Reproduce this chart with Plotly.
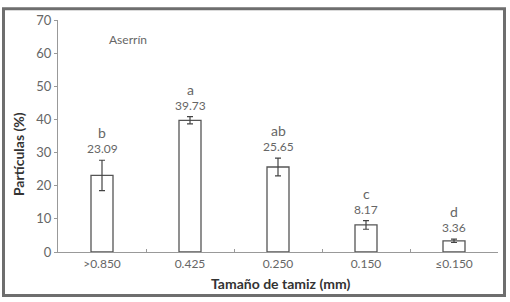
import plotly.graph_objects as go

categories = [">0.850", "0.425", "0.250", "0.150", "≤0.150"]
values = [23.09, 39.73, 25.65, 8.17, 3.36]
errors = [4.6, 1.1, 2.7, 1.3, 0.5]
letters = ["b", "a", "ab", "c", "d"]
value_labels = ["23.09", "39.73", "25.65", "8.17", "3.36"]

FONT = "Lato"
GRAY = "#666666"

fig = go.Figure()
fig.add_trace(go.Bar(
    x=list(range(len(categories))), y=values, width=0.25,
    marker=dict(color="white", line=dict(color="#555555", width=1.3)),
    error_y=dict(type="data", array=errors, visible=True, color="#444444",
                 thickness=1.2, width=3),
    showlegend=False,
))

for i, (v, e, l, t) in enumerate(zip(values, errors, letters, value_labels)):
    fig.add_annotation(x=i, y=v + e, text=t, showarrow=False, yanchor="bottom",
                       xanchor="center", yshift=2,
                       font=dict(family=FONT, size=12, color=GRAY))
    fig.add_annotation(x=i, y=v + e, text=l, showarrow=False, yanchor="bottom",
                       xanchor="center", yshift=17,
                       font=dict(family=FONT, size=14, color=GRAY))

W, H = 510, 302
ML, MR, MT, MB = 58, 12, 15, 50
pw, ph = W - ML - MR, H - MT - MB
def px(xp):
    return (xp - ML) / pw
def py(yp):
    return (H - MB - yp) / ph

fig.update_layout(
    width=W, height=H,
    margin=dict(l=ML, r=MR, t=MT, b=MB),
    paper_bgcolor="white", plot_bgcolor="white",
    font=dict(family=FONT, size=12, color=GRAY),
)

fig.add_annotation(x=px(128), y=py(35), xref="paper", yref="paper", text="Aserrín",
                   xanchor="center", yanchor="middle", showarrow=False,
                   font=dict(family=FONT, size=12, color=GRAY))

fig.add_shape(type="rect", xref="paper", yref="paper",
              x0=px(3.5), x1=px(504.5), y0=py(296.5), y1=py(3.5),
              line=dict(color="#6e6e6e", width=3))

fig.add_annotation(x=px(18), y=py(152), xref="paper", yref="paper",
                   text="<b>Partículas (%)</b>", textangle=-90, showarrow=False,
                   xanchor="center", yanchor="middle",
                   font=dict(family=FONT, size=14, color="#333333"))
fig.add_annotation(x=px(280), y=py(284), xref="paper", yref="paper",
                   text="<b>Tamaño de tamiz (mm)</b>", showarrow=False,
                   xanchor="center", yanchor="middle",
                   font=dict(family=FONT, size=14, color="#333333"))

fig.update_yaxes(range=[0, 70], dtick=10, showline=True, linecolor="#999999",
                 linewidth=1.3, ticks="outside", ticklen=3, tickcolor="#999999",
                 showgrid=False, zeroline=False,
                 tickfont=dict(family=FONT, size=13, color=GRAY))
fig.update_xaxes(range=[-0.5, 4.5], tickmode="array",
                 tickvals=list(range(len(categories))), ticktext=categories,
                 showline=True, linecolor="#999999", linewidth=1.3,
                 showgrid=False, zeroline=False, ticks="",
                 tickfont=dict(family=FONT, size=12, color=GRAY),
                 minor=dict(tickvals=[0.5, 1.5, 2.5, 3.5], ticks="inside",
                            ticklen=3, tickcolor="#999999"))

fig.write_html("out.html", post_script="document.body.style.margin='0';",
               config={"displayModeBar": False})
